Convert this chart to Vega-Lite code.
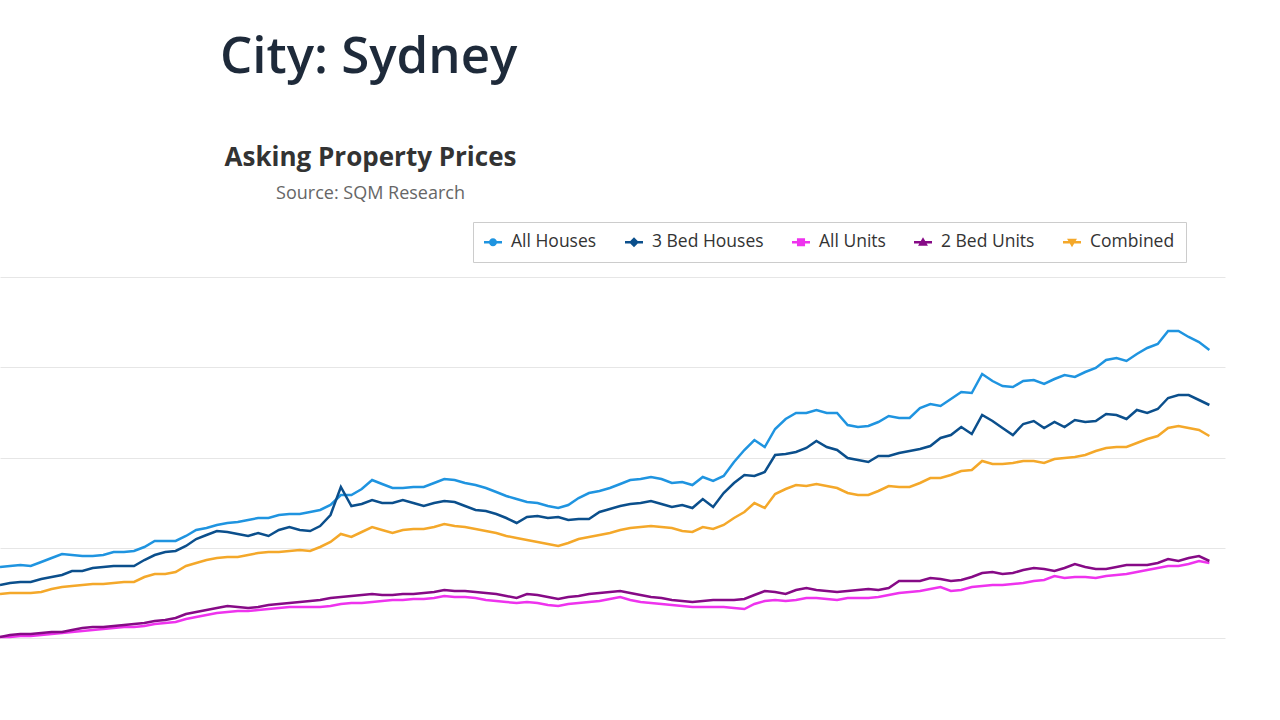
{
  "$schema": "https://vega.github.io/schema/vega-lite/v6.json",
  "autosize": {"type": "none"},
  "padding": {"left": 0, "top": 277, "right": 55, "bottom": 82},
  "width": 1225,
  "height": 361,
  "background": "white",
  "title": {"text": "City: Sydney", "anchor": "start", "frame": "group", "dx": 220, "align": "left", "baseline": "alphabetic", "offset": 20, "fontSize": 51, "fontWeight": 600, "color": "#1e2a3a", "font": "Open Sans"},
  "data": {"values": [
    {"date":"2005-01-01","All Houses":605,"3 Bed Houses":515,"All Units":255,"2 Bed Units":255,"Combined":470},
    {"date":"2005-03-01","All Houses":610,"3 Bed Houses":525,"All Units":255,"2 Bed Units":265,"Combined":475},
    {"date":"2005-05-01","All Houses":615,"3 Bed Houses":530,"All Units":260,"2 Bed Units":270,"Combined":475},
    {"date":"2005-07-01","All Houses":610,"3 Bed Houses":530,"All Units":260,"2 Bed Units":270,"Combined":475},
    {"date":"2005-09-01","All Houses":630,"3 Bed Houses":545,"All Units":265,"2 Bed Units":275,"Combined":480},
    {"date":"2005-11-01","All Houses":650,"3 Bed Houses":555,"All Units":270,"2 Bed Units":280,"Combined":495},
    {"date":"2006-01-01","All Houses":670,"3 Bed Houses":565,"All Units":275,"2 Bed Units":280,"Combined":505},
    {"date":"2006-03-01","All Houses":665,"3 Bed Houses":585,"All Units":280,"2 Bed Units":290,"Combined":510},
    {"date":"2006-05-01","All Houses":660,"3 Bed Houses":585,"All Units":285,"2 Bed Units":300,"Combined":515},
    {"date":"2006-07-01","All Houses":660,"3 Bed Houses":600,"All Units":290,"2 Bed Units":305,"Combined":520},
    {"date":"2006-09-01","All Houses":665,"3 Bed Houses":605,"All Units":295,"2 Bed Units":305,"Combined":520},
    {"date":"2006-11-01","All Houses":680,"3 Bed Houses":610,"All Units":300,"2 Bed Units":310,"Combined":525},
    {"date":"2007-01-01","All Houses":680,"3 Bed Houses":610,"All Units":305,"2 Bed Units":315,"Combined":530},
    {"date":"2007-03-01","All Houses":685,"3 Bed Houses":610,"All Units":305,"2 Bed Units":320,"Combined":530},
    {"date":"2007-05-01","All Houses":705,"3 Bed Houses":640,"All Units":310,"2 Bed Units":325,"Combined":555},
    {"date":"2007-07-01","All Houses":735,"3 Bed Houses":665,"All Units":320,"2 Bed Units":335,"Combined":570},
    {"date":"2007-09-01","All Houses":735,"3 Bed Houses":680,"All Units":325,"2 Bed Units":340,"Combined":570},
    {"date":"2007-11-01","All Houses":735,"3 Bed Houses":685,"All Units":330,"2 Bed Units":350,"Combined":580},
    {"date":"2008-01-01","All Houses":760,"3 Bed Houses":710,"All Units":345,"2 Bed Units":370,"Combined":610},
    {"date":"2008-03-01","All Houses":790,"3 Bed Houses":745,"All Units":355,"2 Bed Units":380,"Combined":625},
    {"date":"2008-05-01","All Houses":800,"3 Bed Houses":765,"All Units":365,"2 Bed Units":390,"Combined":640},
    {"date":"2008-07-01","All Houses":815,"3 Bed Houses":785,"All Units":375,"2 Bed Units":400,"Combined":650},
    {"date":"2008-09-01","All Houses":825,"3 Bed Houses":780,"All Units":380,"2 Bed Units":410,"Combined":655},
    {"date":"2008-11-01","All Houses":830,"3 Bed Houses":770,"All Units":385,"2 Bed Units":405,"Combined":655},
    {"date":"2009-01-01","All Houses":840,"3 Bed Houses":760,"All Units":385,"2 Bed Units":400,"Combined":665},
    {"date":"2009-03-01","All Houses":850,"3 Bed Houses":775,"All Units":390,"2 Bed Units":405,"Combined":675},
    {"date":"2009-05-01","All Houses":850,"3 Bed Houses":760,"All Units":395,"2 Bed Units":415,"Combined":680},
    {"date":"2009-07-01","All Houses":865,"3 Bed Houses":790,"All Units":400,"2 Bed Units":420,"Combined":680},
    {"date":"2009-09-01","All Houses":870,"3 Bed Houses":805,"All Units":405,"2 Bed Units":425,"Combined":685},
    {"date":"2009-11-01","All Houses":870,"3 Bed Houses":790,"All Units":405,"2 Bed Units":430,"Combined":690},
    {"date":"2010-01-01","All Houses":880,"3 Bed Houses":785,"All Units":405,"2 Bed Units":435,"Combined":685},
    {"date":"2010-03-01","All Houses":890,"3 Bed Houses":810,"All Units":405,"2 Bed Units":440,"Combined":705},
    {"date":"2010-05-01","All Houses":915,"3 Bed Houses":865,"All Units":410,"2 Bed Units":450,"Combined":730},
    {"date":"2010-07-01","All Houses":965,"3 Bed Houses":1005,"All Units":420,"2 Bed Units":455,"Combined":770},
    {"date":"2010-09-01","All Houses":965,"3 Bed Houses":910,"All Units":425,"2 Bed Units":460,"Combined":755},
    {"date":"2010-11-01","All Houses":995,"3 Bed Houses":920,"All Units":425,"2 Bed Units":465,"Combined":780},
    {"date":"2011-01-01","All Houses":1040,"3 Bed Houses":940,"All Units":430,"2 Bed Units":470,"Combined":805},
    {"date":"2011-03-01","All Houses":1020,"3 Bed Houses":925,"All Units":435,"2 Bed Units":465,"Combined":790},
    {"date":"2011-05-01","All Houses":1000,"3 Bed Houses":925,"All Units":440,"2 Bed Units":465,"Combined":775},
    {"date":"2011-07-01","All Houses":1000,"3 Bed Houses":940,"All Units":440,"2 Bed Units":470,"Combined":790},
    {"date":"2011-09-01","All Houses":1005,"3 Bed Houses":925,"All Units":445,"2 Bed Units":470,"Combined":795},
    {"date":"2011-11-01","All Houses":1005,"3 Bed Houses":910,"All Units":445,"2 Bed Units":475,"Combined":795},
    {"date":"2012-01-01","All Houses":1025,"3 Bed Houses":925,"All Units":450,"2 Bed Units":480,"Combined":805},
    {"date":"2012-03-01","All Houses":1045,"3 Bed Houses":935,"All Units":460,"2 Bed Units":490,"Combined":820},
    {"date":"2012-05-01","All Houses":1040,"3 Bed Houses":930,"All Units":455,"2 Bed Units":485,"Combined":810},
    {"date":"2012-07-01","All Houses":1025,"3 Bed Houses":910,"All Units":455,"2 Bed Units":485,"Combined":805},
    {"date":"2012-09-01","All Houses":1015,"3 Bed Houses":890,"All Units":450,"2 Bed Units":480,"Combined":795},
    {"date":"2012-11-01","All Houses":1000,"3 Bed Houses":885,"All Units":440,"2 Bed Units":475,"Combined":785},
    {"date":"2013-01-01","All Houses":980,"3 Bed Houses":870,"All Units":435,"2 Bed Units":470,"Combined":775},
    {"date":"2013-03-01","All Houses":960,"3 Bed Houses":850,"All Units":430,"2 Bed Units":460,"Combined":760},
    {"date":"2013-05-01","All Houses":945,"3 Bed Houses":825,"All Units":425,"2 Bed Units":450,"Combined":750},
    {"date":"2013-07-01","All Houses":930,"3 Bed Houses":855,"All Units":430,"2 Bed Units":470,"Combined":740},
    {"date":"2013-09-01","All Houses":925,"3 Bed Houses":860,"All Units":425,"2 Bed Units":465,"Combined":730},
    {"date":"2013-11-01","All Houses":910,"3 Bed Houses":850,"All Units":415,"2 Bed Units":455,"Combined":720},
    {"date":"2014-01-01","All Houses":900,"3 Bed Houses":855,"All Units":410,"2 Bed Units":445,"Combined":710},
    {"date":"2014-03-01","All Houses":915,"3 Bed Houses":840,"All Units":420,"2 Bed Units":455,"Combined":725},
    {"date":"2014-05-01","All Houses":950,"3 Bed Houses":845,"All Units":425,"2 Bed Units":460,"Combined":745},
    {"date":"2014-07-01","All Houses":975,"3 Bed Houses":845,"All Units":430,"2 Bed Units":470,"Combined":755},
    {"date":"2014-09-01","All Houses":985,"3 Bed Houses":880,"All Units":435,"2 Bed Units":475,"Combined":765},
    {"date":"2014-11-01","All Houses":1000,"3 Bed Houses":895,"All Units":445,"2 Bed Units":480,"Combined":775},
    {"date":"2015-01-01","All Houses":1020,"3 Bed Houses":910,"All Units":455,"2 Bed Units":485,"Combined":790},
    {"date":"2015-03-01","All Houses":1040,"3 Bed Houses":920,"All Units":440,"2 Bed Units":475,"Combined":800},
    {"date":"2015-05-01","All Houses":1045,"3 Bed Houses":925,"All Units":430,"2 Bed Units":465,"Combined":805},
    {"date":"2015-07-01","All Houses":1055,"3 Bed Houses":935,"All Units":425,"2 Bed Units":455,"Combined":810},
    {"date":"2015-09-01","All Houses":1045,"3 Bed Houses":920,"All Units":420,"2 Bed Units":450,"Combined":805},
    {"date":"2015-11-01","All Houses":1025,"3 Bed Houses":905,"All Units":415,"2 Bed Units":440,"Combined":800},
    {"date":"2016-01-01","All Houses":1030,"3 Bed Houses":915,"All Units":410,"2 Bed Units":435,"Combined":785},
    {"date":"2016-03-01","All Houses":1015,"3 Bed Houses":900,"All Units":405,"2 Bed Units":430,"Combined":780},
    {"date":"2016-05-01","All Houses":1055,"3 Bed Houses":945,"All Units":405,"2 Bed Units":435,"Combined":805},
    {"date":"2016-07-01","All Houses":1035,"3 Bed Houses":905,"All Units":405,"2 Bed Units":440,"Combined":795},
    {"date":"2016-09-01","All Houses":1060,"3 Bed Houses":975,"All Units":405,"2 Bed Units":440,"Combined":815},
    {"date":"2016-11-01","All Houses":1130,"3 Bed Houses":1025,"All Units":400,"2 Bed Units":440,"Combined":850},
    {"date":"2017-01-01","All Houses":1190,"3 Bed Houses":1065,"All Units":395,"2 Bed Units":445,"Combined":880},
    {"date":"2017-03-01","All Houses":1240,"3 Bed Houses":1060,"All Units":420,"2 Bed Units":465,"Combined":925},
    {"date":"2017-05-01","All Houses":1205,"3 Bed Houses":1080,"All Units":435,"2 Bed Units":485,"Combined":900},
    {"date":"2017-07-01","All Houses":1295,"3 Bed Houses":1165,"All Units":440,"2 Bed Units":480,"Combined":970},
    {"date":"2017-09-01","All Houses":1345,"3 Bed Houses":1170,"All Units":435,"2 Bed Units":470,"Combined":995},
    {"date":"2017-11-01","All Houses":1375,"3 Bed Houses":1180,"All Units":440,"2 Bed Units":490,"Combined":1015},
    {"date":"2018-01-01","All Houses":1375,"3 Bed Houses":1200,"All Units":450,"2 Bed Units":500,"Combined":1010},
    {"date":"2018-03-01","All Houses":1390,"3 Bed Houses":1235,"All Units":450,"2 Bed Units":490,"Combined":1020},
    {"date":"2018-05-01","All Houses":1375,"3 Bed Houses":1205,"All Units":445,"2 Bed Units":485,"Combined":1010},
    {"date":"2018-07-01","All Houses":1375,"3 Bed Houses":1190,"All Units":440,"2 Bed Units":480,"Combined":1000},
    {"date":"2018-09-01","All Houses":1315,"3 Bed Houses":1150,"All Units":450,"2 Bed Units":485,"Combined":975},
    {"date":"2018-11-01","All Houses":1305,"3 Bed Houses":1140,"All Units":450,"2 Bed Units":490,"Combined":965},
    {"date":"2019-01-01","All Houses":1310,"3 Bed Houses":1130,"All Units":450,"2 Bed Units":495,"Combined":965},
    {"date":"2019-03-01","All Houses":1330,"3 Bed Houses":1160,"All Units":455,"2 Bed Units":490,"Combined":985},
    {"date":"2019-05-01","All Houses":1360,"3 Bed Houses":1160,"All Units":465,"2 Bed Units":500,"Combined":1010},
    {"date":"2019-07-01","All Houses":1350,"3 Bed Houses":1175,"All Units":475,"2 Bed Units":535,"Combined":1005},
    {"date":"2019-09-01","All Houses":1350,"3 Bed Houses":1185,"All Units":480,"2 Bed Units":535,"Combined":1005},
    {"date":"2019-11-01","All Houses":1400,"3 Bed Houses":1195,"All Units":485,"2 Bed Units":535,"Combined":1025},
    {"date":"2020-01-01","All Houses":1420,"3 Bed Houses":1210,"All Units":495,"2 Bed Units":550,"Combined":1050},
    {"date":"2020-03-01","All Houses":1410,"3 Bed Houses":1250,"All Units":505,"2 Bed Units":545,"Combined":1050},
    {"date":"2020-05-01","All Houses":1445,"3 Bed Houses":1265,"All Units":485,"2 Bed Units":535,"Combined":1065},
    {"date":"2020-07-01","All Houses":1480,"3 Bed Houses":1305,"All Units":490,"2 Bed Units":540,"Combined":1085},
    {"date":"2020-09-01","All Houses":1475,"3 Bed Houses":1270,"All Units":505,"2 Bed Units":555,"Combined":1090},
    {"date":"2020-11-01","All Houses":1570,"3 Bed Houses":1365,"All Units":510,"2 Bed Units":575,"Combined":1135},
    {"date":"2021-01-01","All Houses":1535,"3 Bed Houses":1335,"All Units":515,"2 Bed Units":580,"Combined":1120},
    {"date":"2021-03-01","All Houses":1510,"3 Bed Houses":1300,"All Units":515,"2 Bed Units":570,"Combined":1120},
    {"date":"2021-05-01","All Houses":1505,"3 Bed Houses":1265,"All Units":520,"2 Bed Units":575,"Combined":1125},
    {"date":"2021-07-01","All Houses":1535,"3 Bed Houses":1320,"All Units":525,"2 Bed Units":590,"Combined":1135},
    {"date":"2021-09-01","All Houses":1540,"3 Bed Houses":1335,"All Units":535,"2 Bed Units":600,"Combined":1135},
    {"date":"2021-11-01","All Houses":1520,"3 Bed Houses":1300,"All Units":540,"2 Bed Units":595,"Combined":1125},
    {"date":"2022-01-01","All Houses":1545,"3 Bed Houses":1330,"All Units":560,"2 Bed Units":585,"Combined":1145},
    {"date":"2022-03-01","All Houses":1565,"3 Bed Houses":1305,"All Units":550,"2 Bed Units":600,"Combined":1150},
    {"date":"2022-05-01","All Houses":1555,"3 Bed Houses":1340,"All Units":555,"2 Bed Units":620,"Combined":1155},
    {"date":"2022-07-01","All Houses":1580,"3 Bed Houses":1330,"All Units":555,"2 Bed Units":605,"Combined":1165},
    {"date":"2022-09-01","All Houses":1600,"3 Bed Houses":1335,"All Units":550,"2 Bed Units":595,"Combined":1185},
    {"date":"2022-11-01","All Houses":1640,"3 Bed Houses":1370,"All Units":560,"2 Bed Units":595,"Combined":1200},
    {"date":"2023-01-01","All Houses":1650,"3 Bed Houses":1365,"All Units":565,"2 Bed Units":605,"Combined":1205},
    {"date":"2023-03-01","All Houses":1635,"3 Bed Houses":1345,"All Units":570,"2 Bed Units":615,"Combined":1205},
    {"date":"2023-05-01","All Houses":1670,"3 Bed Houses":1390,"All Units":580,"2 Bed Units":615,"Combined":1225},
    {"date":"2023-07-01","All Houses":1700,"3 Bed Houses":1375,"All Units":590,"2 Bed Units":615,"Combined":1245},
    {"date":"2023-09-01","All Houses":1720,"3 Bed Houses":1395,"All Units":600,"2 Bed Units":625,"Combined":1260},
    {"date":"2023-11-01","All Houses":1785,"3 Bed Houses":1450,"All Units":610,"2 Bed Units":645,"Combined":1300},
    {"date":"2024-01-01","All Houses":1785,"3 Bed Houses":1465,"All Units":610,"2 Bed Units":635,"Combined":1310},
    {"date":"2024-03-01","All Houses":1755,"3 Bed Houses":1465,"All Units":620,"2 Bed Units":650,"Combined":1300},
    {"date":"2024-05-01","All Houses":1730,"3 Bed Houses":1440,"All Units":635,"2 Bed Units":660,"Combined":1290},
    {"date":"2024-07-01","All Houses":1690,"3 Bed Houses":1415,"All Units":625,"2 Bed Units":635,"Combined":1260}
  ]},
  "transform": [{"fold": ["All Houses", "3 Bed Houses", "All Units", "2 Bed Units", "Combined"], "as": ["series", "price"]}],
  "encoding": {
    "x": {
      "field": "date", "type": "temporal",
      "scale": {"domain": [{"year": 2005, "month": 1, "date": 1, "utc": true}, {"year": 2024, "month": 10, "date": 1, "utc": true}]},
      "axis": {"orient": "top", "title": "Asking Property Prices", "labels": false, "ticks": false, "domain": false, "grid": false,
               "titleX": 370, "titleY": -112, "titleAlign": "center", "titleBaseline": "alphabetic", "titleFontSize": 26,
               "titleFontWeight": "bold", "titleColor": "#333333", "titleFont": "Open Sans"}
    },
    "y": {
      "field": "price", "type": "quantitative",
      "scale": {"domain": [250, 2055]},
      "axis": {"title": "Source: SQM Research", "titleAngle": 0, "titleX": 370, "titleY": -79, "titleAlign": "center",
               "titleBaseline": "alphabetic", "titleFontSize": 18, "titleFontWeight": "normal", "titleColor": "#666666",
               "titleFont": "Open Sans", "labels": false, "ticks": false, "domain": false, "grid": true,
               "gridColor": "#e6e6e6", "gridWidth": 1, "values": [250, 701.25, 1152.5, 1603.75, 2055]}
    }
  },
  "layer": [
    {
      "mark": {"type": "line", "strokeWidth": 2.5},
      "encoding": {
        "color": {"field": "series", "type": "nominal",
                  "scale": {"domain": ["All Houses", "3 Bed Houses", "All Units", "2 Bed Units", "Combined"],
                            "range": ["#1f94e0", "#0b4f8c", "#ee33ee", "#860a86", "#f4a82a"]},
                  "legend": {"title": null, "orient": "none", "legendX": 473, "legendY": -55, "direction": "horizontal"}}
      }
    },
    {
      "transform": [{"filter": "datum.price < 0"}],
      "mark": {"type": "point", "filled": true, "opacity": 1},
      "encoding": {
        "color": {"field": "series", "type": "nominal",
                  "scale": {"domain": ["All Houses", "3 Bed Houses", "All Units", "2 Bed Units", "Combined"],
                            "range": ["#1f94e0", "#0b4f8c", "#ee33ee", "#860a86", "#f4a82a"]},
                  "legend": {"title": null, "orient": "none", "legendX": 473, "legendY": -55, "direction": "horizontal"}},
        "shape": {"field": "series", "type": "nominal",
                  "scale": {"domain": ["All Houses", "3 Bed Houses", "All Units", "2 Bed Units", "Combined"],
                            "range": [
                              "M-1,-0.13H1V0.13H-1ZM-0.45,0A0.45,0.45,0,1,1,0.45,0A0.45,0.45,0,1,1,-0.45,0Z",
                              "M-1,-0.13H1V0.13H-1ZM0,-0.55L0.55,0L0,0.55L-0.55,0Z",
                              "M-1,-0.13H1V0.13H-1ZM-0.45,-0.45H0.45V0.45H-0.45Z",
                              "M-1,-0.13H1V0.13H-1ZM0,-0.55L0.55,0.4L-0.55,0.4Z",
                              "M-1,-0.13H1V0.13H-1ZM-0.55,-0.4L0.55,-0.4L0,0.55Z"
                            ]},
                  "legend": {"title": null, "orient": "none", "legendX": 473, "legendY": -55, "direction": "horizontal"}}
      }
    }
  ],
  "config": {
    "view": {"stroke": null},
    "font": "Open Sans",
    "legend": {"labelFont": "Open Sans", "labelFontSize": 17.5, "labelColor": "#333333", "symbolSize": 324,
               "symbolStrokeWidth": 0, "labelOffset": 9, "columnPadding": 28, "padding": 11,
               "strokeColor": "#cccccc", "fillColor": "#ffffff", "symbolOpacity": 1}
  }
}
